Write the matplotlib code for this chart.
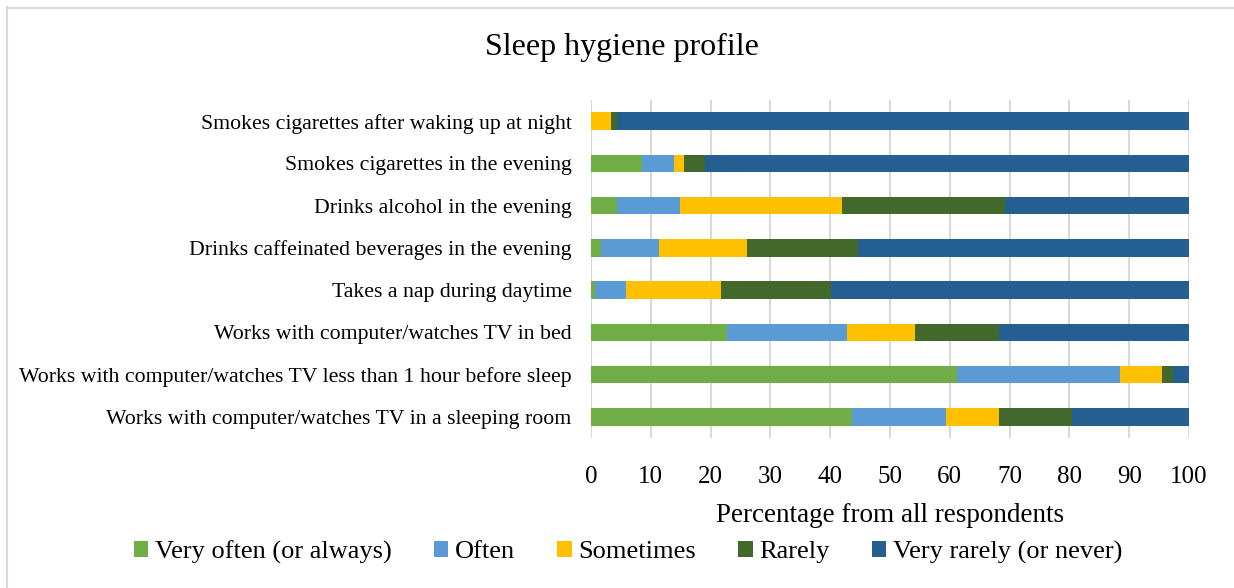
import numpy as np
import matplotlib
matplotlib.use("Agg")
import matplotlib.pyplot as plt
from matplotlib.lines import Line2D
from matplotlib.patches import Patch

########################################################################
# data (percent of all respondents)
########################################################################
categories = [
    "Smokes cigarettes after waking up at night",
    "Smokes cigarettes in the evening",
    "Drinks alcohol in the evening",
    "Drinks caffeinated beverages in the evening",
    "Takes a nap during daytime",
    "Works with computer/watches TV in bed",
    "Works with computer/watches TV less than 1 hour before sleep",
    "Works with computer/watches TV in a sleeping room",
]
series_names = ["Very often (or always)", "Often", "Sometimes", "Rarely",
                "Very rarely (or never)"]

very_often = [0.0, 8.6, 4.3, 1.6, 0.7, 22.7, 61.2, 43.7]
often = [0.0, 5.2, 10.5, 9.7, 5.2, 20.1, 27.2, 15.7]
sometimes = [3.4, 1.8, 27.1, 14.8, 15.9, 11.4, 7.1, 8.9]
rarely = [0.9, 3.5, 27.3, 18.5, 18.4, 14.1, 1.8, 12.2]
very_rarely = [95.7, 80.9, 30.8, 55.4, 59.8, 31.7, 2.7, 19.5]

x_ticks = [0, 10, 20, 30, 40, 50, 60, 70, 80, 90, 100]

colors = ["#70AD47", "#5B9BD5", "#FFC000", "#43682B", "#255E91"]

########################################################################
# figure
########################################################################
W, H = 1234, 588
plt.rcParams["font.family"] = ["Liberation Serif", "DejaVu Serif"]

fig = plt.figure(figsize=(W / 100, H / 100), dpi=100)
ax = fig.add_axes([591 / W, 1 - 438 / H, (1189 - 591) / W, (438 - 100) / H])

# stacked horizontal bars
y = np.arange(len(categories))
left = np.zeros(len(categories))
for name, vals, col in zip(series_names,
                           [very_often, often, sometimes, rarely, very_rarely],
                           colors):
    vals = np.array(vals)
    ax.barh(y, vals, left=left, height=0.41, color=col, label=name,
            edgecolor="none", zorder=3)
    left += vals

ax.set_ylim(len(categories) - 0.5, -0.5)
ax.set_xlim(0, 100)
ax.set_yticks(y)
ax.set_yticklabels(categories, fontsize=15.7)
ax.set_xticks(x_ticks)
ax.set_xticklabels([str(t) for t in x_ticks], fontsize=18)
ax.tick_params(axis="both", length=0)
ax.tick_params(axis="x", pad=20)
ax.tick_params(axis="y", pad=14)
ax.xaxis.grid(True, color="#d9d9d9", linewidth=1.5, zorder=0)
for s in ax.spines.values():
    s.set_visible(False)

# texts
fig.text(622 / W, 1 - 47 / H, "Sleep hygiene profile", fontsize=23,
         ha="center", va="center")
fig.text(890 / W, 1 - 515 / H, "Percentage from all respondents",
         fontsize=19.5, ha="center", va="center")

handles = [Patch(facecolor=c, edgecolor="none") for c in colors]
fig.legend(handles, series_names, loc="center", ncol=5,
           bbox_to_anchor=(628 / W, 1 - 552 / H), frameon=False,
           fontsize=19, handlelength=0.55, handleheight=0.55,
           handletextpad=0.25, columnspacing=1.6)

# chart border (Excel style)
fig.add_artist(Line2D([6.5 / W, 6.5 / W], [1 - 7 / H, 0], color="#d9d9d9",
                      linewidth=1.5, transform=fig.transFigure))
fig.add_artist(Line2D([6.5 / W, 1], [1 - 7.5 / H, 1 - 7.5 / H],
                      color="#d9d9d9", linewidth=1.5,
                      transform=fig.transFigure))

fig.savefig("out.png", dpi=100)
